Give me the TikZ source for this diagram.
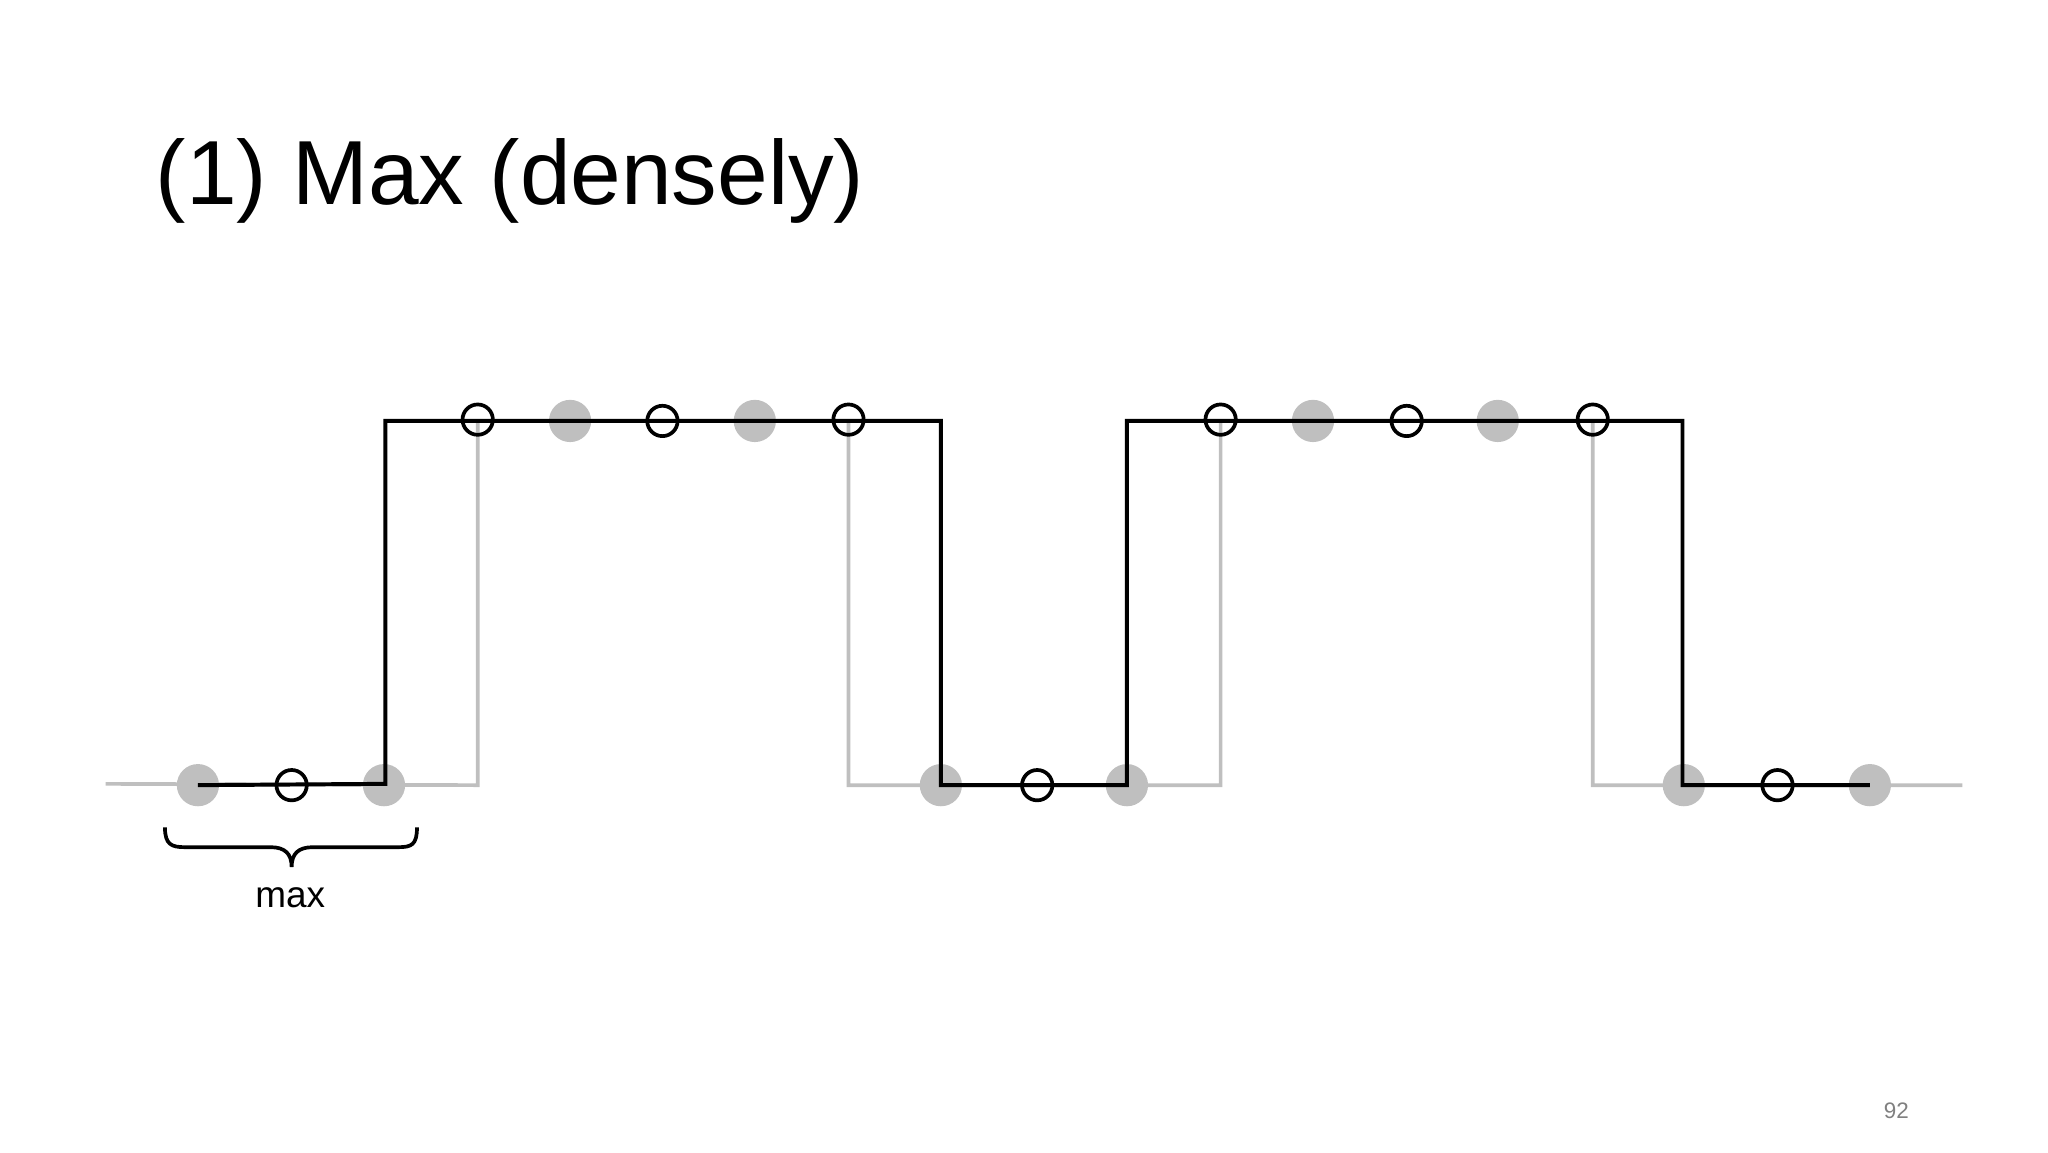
\documentclass[tikz,border=0pt]{standalone}
\usepackage{fontspec}
\setmainfont{Liberation Sans}
\begin{document}
\begin{tikzpicture}[x=1pt,y=-1pt,
  gline/.style={draw=black!25,line width=2.8pt},
  bline/.style={draw=black,line width=3pt},
  gdot/.style={circle,fill=black!25,minimum size=32pt,inner sep=0pt},
  odot/.style={circle,draw=black,line width=2.8pt,minimum size=23pt,inner sep=0pt}]
\useasboundingbox (0,0) rectangle (1552,873);
\node[anchor=base west,font=\fontsize{69}{78}\selectfont,inner sep=0pt] (title) at (118,155) {(1) Max (densely)};
% gray line
\coordinate (g0) at (80,594);
\coordinate (g1) at (1487,595);
\draw[gline] (g0) -- (362,595) -- (362,319) -- (643,319) -- (643,595) -- (925,595) -- (925,319) -- (1207,319) -- (1207,595) -- (g1);
% gray dots
\foreach \n/\x/\y in {a/150/595,b/291/595,c/432/319,d/572/319,e/713/595,f/854/595,g/995/319,h/1135/319,i/1276/595,j/1417/595}
  \node[gdot] (\n) at (\x,\y) {};
% black line
\draw[bline] (a.center) -- (292,594) -- (292,319) -- (713,319) -- (e.center) -- (f.center) -- (854,319) -- (1275,319) -- (1275,595) -- (j.center);
% open circles
\foreach \n/\x/\y in {o1/221/595,o2/362/318,o3/502/319,o4/643/318,o5/786/595,o6/925/318,o7/1066/319,o8/1207/318,o9/1347/595}
  \node[odot] (\n) at (\x,\y) {};
% brace
\draw[line width=2.8pt] (125,627) .. controls (125,640) and (130,642) .. (140,642) -- (205,642) .. controls (216,642) and (221,647) .. (221,657)
  .. controls (221,647) and (226,642) .. (237,642) -- (302,642) .. controls (312,642) and (316,640) .. (316,627);
\node[font=\fontsize{28}{32}\selectfont] (mx) at (220,680) {max};
\node[font=\fontsize{17}{21}\selectfont,text=black!50] (pg) at (1437,842) {92};
\end{tikzpicture}
\end{document}
